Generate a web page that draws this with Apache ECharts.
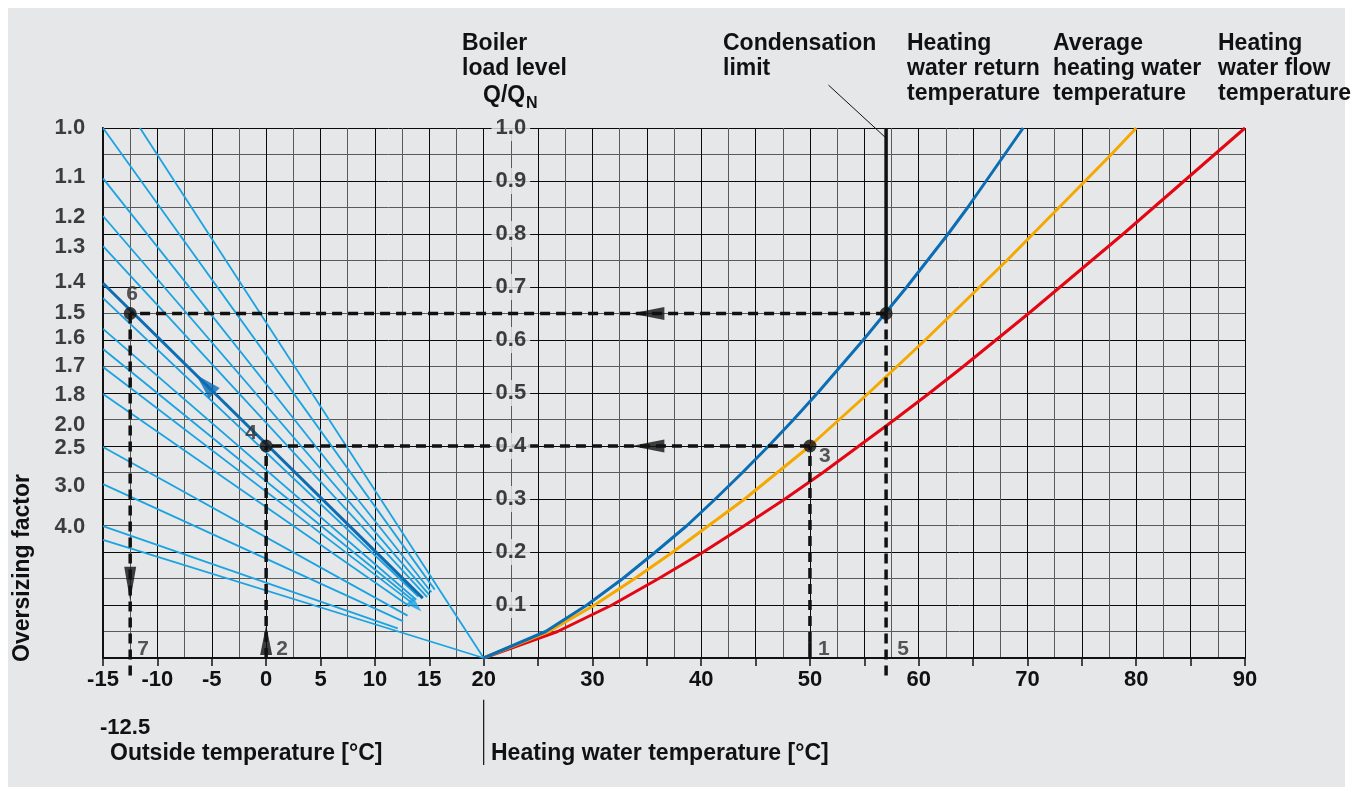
<!DOCTYPE html>
<html>
<head>
<meta charset="utf-8">
<script src="https://cdn.jsdelivr.net/npm/echarts@6/dist/echarts.min.js"></script>
<style>
  html, body { margin: 0; padding: 0; background: #ffffff; }
  #chart { width: 1353px; height: 795px; }
</style>
</head>
<body>
<div id="chart"></div>
<script>
// ---------- data ----------
// Oversizing factor scale on the left edge (label text, label height, tick end, line start at -15 °C)
const factorLabels    = ['1.0', '1.1', '1.2', '1.3', '1.4', '1.5', '1.6', '1.7', '1.8', '2.0', '2.5', '3.0', '4.0'];
const factorLabelLoad = [1.0, 0.907, 0.833, 0.776, 0.709, 0.651, 0.603, 0.551, 0.497, 0.440, 0.396, 0.325, 0.248];
const factorTickLoad  = [1.0, 0.905, 0.834, 0.777, 0.707, 0.658, 0.606, 0.553, 0.499, 0.446, 0.398, 0.328, 0.249];
const fanStartLoad    = [1.0, 0.905, 0.834, 0.777, 0.707, 0.679, 0.621, 0.583, 0.549, 0.498, 0.398, 0.328, 0.249];
const fanEndTemp      = [15.5, 15.2, 15.0, 14.8, 14.4, 14.0, 13.8, 13.6, 13.4, 13.2, 13.0, 12.6, 12.1];
const fanEndLoad      = [0.129, 0.124, 0.119, 0.115, 0.113, 0.116, 0.110, 0.107, 0.104, 0.097, 0.080, 0.069, 0.056];
const highlightedFactor = '1.4';
// two further load lines running all the way to 20 °C / 0
const extraFanLines = [
  [[-11.6, 1.0], [20, 0]],
  [[-15, 0.223], [20, 0]]
];

// Heating curves: load level vs. water temperature
const loadLevels  = [0, 0.05, 0.10, 0.15, 0.20, 0.25, 0.30, 0.35, 0.40, 0.45, 0.50, 0.55, 0.60, 0.65, 0.70, 0.75, 0.80, 0.85, 0.90, 0.95, 1.00];
const returnTemp  = [20, 25.7, 29.5, 32.8, 35.8, 38.7, 41.3, 43.8, 46.2, 48.5, 50.7, 52.8, 54.9, 56.9, 58.9, 60.8, 62.7, 64.5, 66.2, 67.9, 69.6];
const averageTemp = [20, 26.0, 30.2, 33.9, 37.4, 40.7, 44.0, 47.0, 50.0, 52.7, 55.4, 58.0, 60.6, 63.1, 65.6, 68.1, 70.5, 72.9, 75.3, 77.7, 80.0];
const flowTemp    = [20, 26.8, 31.8, 36.1, 40.2, 44.0, 47.7, 51.2, 54.5, 57.8, 61.0, 64.1, 67.1, 70.1, 73.0, 75.9, 78.8, 81.6, 84.4, 87.2, 90.0];

// Centre load scale
const loadTicks = [0.1, 0.2, 0.3, 0.4, 0.5, 0.6, 0.7, 0.8, 0.9, 1.0];

// Worked example: condensation limit and reading steps
const condensationTemp = 57;
const exampleOutside   = [-12.5, 0];
const exampleWater     = [57, 50];
const exampleLoad      = [0.65, 0.4];

// ---------- styling ----------
const PANEL = '#e6e7e9';
const INK = '#111111';
const FONT = '"Liberation Sans", Arial, Helvetica, sans-serif';
const LIGHT_BLUE = '#1ba3e1';
const DARK_BLUE = '#0b6db3';
const DASH = [10, 6];

function pathSeries(points, color, width, dash, z) {
  return {
    type: 'line', data: points, symbol: 'none', silent: true, clip: false,
    animation: false, z: z || 3,
    lineStyle: { color: color, width: width, type: dash || 'solid', cap: 'butt' }
  };
}

function textPoints(points, labelOpt, z) {
  return {
    type: 'scatter', data: points, symbolSize: 1, silent: true, clip: false,
    animation: false, z: z || 10,
    itemStyle: { color: 'rgba(0,0,0,0)' },
    label: Object.assign({ show: true, fontFamily: FONT, fontWeight: 'bold', color: INK }, labelOpt)
  };
}

const series = [];

// load lines for each oversizing factor
factorLabels.forEach((f, i) => {
  const dark = f === highlightedFactor;
  series.push(pathSeries([[-15, fanStartLoad[i]], [fanEndTemp[i], fanEndLoad[i]]],
    dark ? DARK_BLUE : LIGHT_BLUE, dark ? 3 : 1.8, null, dark ? 4 : 3));
  // tick or leader line to the factor label
  series.push(pathSeries([[-16.04, factorTickLoad[i]], [-15, fanStartLoad[i]]],
    INK, factorTickLoad[i] === fanStartLoad[i] ? 1.6 : 1, null, 3));
});
extraFanLines.forEach(p => series.push(pathSeries(p, LIGHT_BLUE, 1.8, null, 3)));

// factor labels
series.push(textPoints(factorLabels.map((f, i) => ({ value: [-16.04, factorLabelLoad[i]], name: f })),
  { position: 'left', distance: 6, fontSize: 22, formatter: p => p.name }));

// heating curves
const curve = (temps, color) => ({
  type: 'line', data: temps.map((t, i) => [t, loadLevels[i]]), symbol: 'none', silent: true,
  smooth: false, animation: false, z: 5, lineStyle: { color: color, width: 3, join: 'round' }
});
series.push(curve(flowTemp, '#e30613'));
series.push(curve(averageTemp, '#f5a800'));
series.push(curve(returnTemp, '#0b6db3'));

// condensation limit (solid above the reading point)
series.push(pathSeries([[condensationTemp, 1.0], [condensationTemp, exampleLoad[0]]], INK, 3.5, null, 6));
series.push(pathSeries([[51.7, 1.081], [condensationTemp, 0.981]], INK, 1, null, 6));

// dashed reading lines
series.push(pathSeries([[exampleWater[0], exampleLoad[0]], [exampleOutside[0], exampleLoad[0]]], INK, 3.5, DASH, 6));
series.push(pathSeries([[exampleWater[1], exampleLoad[1]], [exampleOutside[1], exampleLoad[1]]], INK, 3.5, DASH, 6));
series.push(pathSeries([[exampleWater[0], exampleLoad[0]], [exampleWater[0], -0.036]], INK, 3.5, DASH, 6));
series.push(pathSeries([[exampleOutside[0], exampleLoad[0]], [exampleOutside[0], -0.036]], INK, 3.5, DASH, 6));
series.push(pathSeries([[exampleWater[1], 0.03], [exampleWater[1], exampleLoad[1]]], INK, 3.5, DASH, 6));
series.push(pathSeries([[exampleWater[1], 0], [exampleWater[1], 0.03]], INK, 3.5, null, 6));
series.push(pathSeries([[exampleOutside[1], 0], [exampleOutside[1], exampleLoad[1]]], INK, 3.5, DASH, 6));

// separator below the temperature scale
series.push(pathSeries([[20, -0.079], [20, -0.202]], INK, 1.2, null, 6));

// arrow heads
const arrows = [
  { value: [35.1, 0.65], symbolSize: [13, 33], symbolRotate: 90, itemStyle: { color: INK } },
  { value: [35.1, 0.40], symbolSize: [13, 33], symbolRotate: 90, itemStyle: { color: INK } },
  { value: [-12.5, 0.14], symbolSize: [12, 34], symbolRotate: 180, itemStyle: { color: INK } },
  { value: [0, 0.034], symbolSize: [12, 30], symbolRotate: 0, itemStyle: { color: INK } },
  { value: [-5.6, 0.517], symbolSize: [15, 26], symbolRotate: 44.5, itemStyle: { color: DARK_BLUE } },
  { value: [13.75, 0.098], symbolSize: [10, 16], symbolRotate: -134, itemStyle: { color: LIGHT_BLUE } }
];
series.push({
  type: 'scatter', data: arrows, symbol: 'triangle', silent: true, clip: false,
  animation: false, z: 7
});

// reading points
series.push({
  type: 'scatter', symbol: 'circle', symbolSize: 13, silent: true, clip: false, animation: false, z: 8,
  itemStyle: { color: INK },
  data: [[exampleOutside[0], exampleLoad[0]], [exampleOutside[1], exampleLoad[1]],
         [exampleWater[1], exampleLoad[1]], [exampleWater[0], exampleLoad[0]]]
});

// step numbers
const stepLabelStyle = { position: 'inside', fontSize: 21, color: '#2e2e2e', align: 'center', verticalAlign: 'middle' };
const steps = [
  { name: '1', value: [exampleWater[1], 0], off: [14, -9] },
  { name: '2', value: [exampleOutside[1], 0], off: [16, -9] },
  { name: '3', value: [exampleWater[1], exampleLoad[1]], off: [15, 10] },
  { name: '4', value: [exampleOutside[1], exampleLoad[1]], off: [-15, -13] },
  { name: '5', value: [exampleWater[0], 0], off: [17, -9] },
  { name: '6', value: [exampleOutside[0], exampleLoad[0]], off: [2, -19] },
  { name: '7', value: [exampleOutside[0], 0], off: [13, -9] }
];
series.push(textPoints(steps.map(s => ({ name: s.name, value: s.value, label: { offset: s.off } })),
  Object.assign({ formatter: p => p.name }, stepLabelStyle), 11));

// centre load scale labels
series.push(textPoints(loadTicks.map(v => ({ value: [22.5, v] })), {
  position: 'inside', fontSize: 22, align: 'center', verticalAlign: 'middle',
  backgroundColor: PANEL, padding: [2, 4],
  formatter: p => p.value[1].toFixed(1)
}, 9));

const titleFont = 'bold 23px ' + FONT;
const option = {
  backgroundColor: '#ffffff',
  animation: false,
  grid: { left: 103, right: 108, top: 128, bottom: 137, containLabel: false },
  xAxis: [
    {
      type: 'value', min: -15, max: 90, interval: 2.5,
      axisLine: { show: false, onZero: false }, axisTick: { show: false }, axisLabel: { show: false },
      splitLine: { show: true, lineStyle: { color: ['#0a0a0a', '#5a5a5a'], width: 1 } }
    },
    {
      type: 'value', min: -15, max: 90, interval: 5, position: 'bottom',
      axisLine: { show: true, onZero: false, lineStyle: { color: INK, width: 2 } },
      axisTick: { show: true, length: 8, lineStyle: { color: INK, width: 1.5 } },
      splitLine: { show: false },
      axisLabel: {
        show: true, margin: 11, fontSize: 22, fontWeight: 'bold', fontFamily: FONT, color: INK,
        formatter: v => (v <= 20 || v % 10 === 0) ? String(v) : ''
      }
    }
  ],
  yAxis: [{
    type: 'value', min: 0, max: 1, interval: 0.05, position: 'left',
    axisLine: { show: true, onZero: false, lineStyle: { color: INK, width: 2 } },
    axisTick: { show: false }, axisLabel: { show: false },
    splitLine: { show: true, lineStyle: { color: ['#0a0a0a', '#5a5a5a'], width: 1 } }
  }],
  graphic: [
    { type: 'rect', z: -10, silent: true, shape: { x: 8, y: 8, width: 1337, height: 779 }, style: { fill: PANEL } },
    { type: 'text', x: 462, y: 31, silent: true, style: { text: 'Boiler\nload level', font: titleFont, fill: INK, lineHeight: 25 } },
    { type: 'text', x: 483, y: 84, silent: true, style: { text: 'Q/Q', font: titleFont, fill: INK } },
    { type: 'text', x: 526, y: 96, silent: true, style: { text: 'N', font: 'bold 16px ' + FONT, fill: INK } },
    { type: 'text', x: 723, y: 31, silent: true, style: { text: 'Condensation\nlimit', font: titleFont, fill: INK, lineHeight: 25 } },
    { type: 'text', x: 907, y: 31, silent: true, style: { text: 'Heating\nwater return\ntemperature', font: titleFont, fill: INK, lineHeight: 25 } },
    { type: 'text', x: 1053, y: 31, silent: true, style: { text: 'Average\nheating water\ntemperature', font: titleFont, fill: INK, lineHeight: 25 } },
    { type: 'text', x: 1218, y: 31, silent: true, style: { text: 'Heating\nwater flow\ntemperature', font: titleFont, fill: INK, lineHeight: 25 } },
    { type: 'text', x: 100, y: 717, silent: true, style: { text: '-12.5', font: 'bold 22px ' + FONT, fill: INK } },
    { type: 'text', x: 110, y: 742, silent: true, style: { text: 'Outside temperature [°C]', font: titleFont, fill: INK } },
    { type: 'text', x: 491, y: 742, silent: true, style: { text: 'Heating water temperature [°C]', font: titleFont, fill: INK } },
    { type: 'text', x: 23, y: 568, rotation: Math.PI / 2, silent: true,
      style: { text: 'Oversizing factor', font: titleFont, fill: INK, align: 'center', verticalAlign: 'middle' } }
  ],
  series: series
};

const chart = echarts.init(document.getElementById('chart'), null, { renderer: 'canvas' });
chart.setOption(option);
</script>
</body>
</html>
